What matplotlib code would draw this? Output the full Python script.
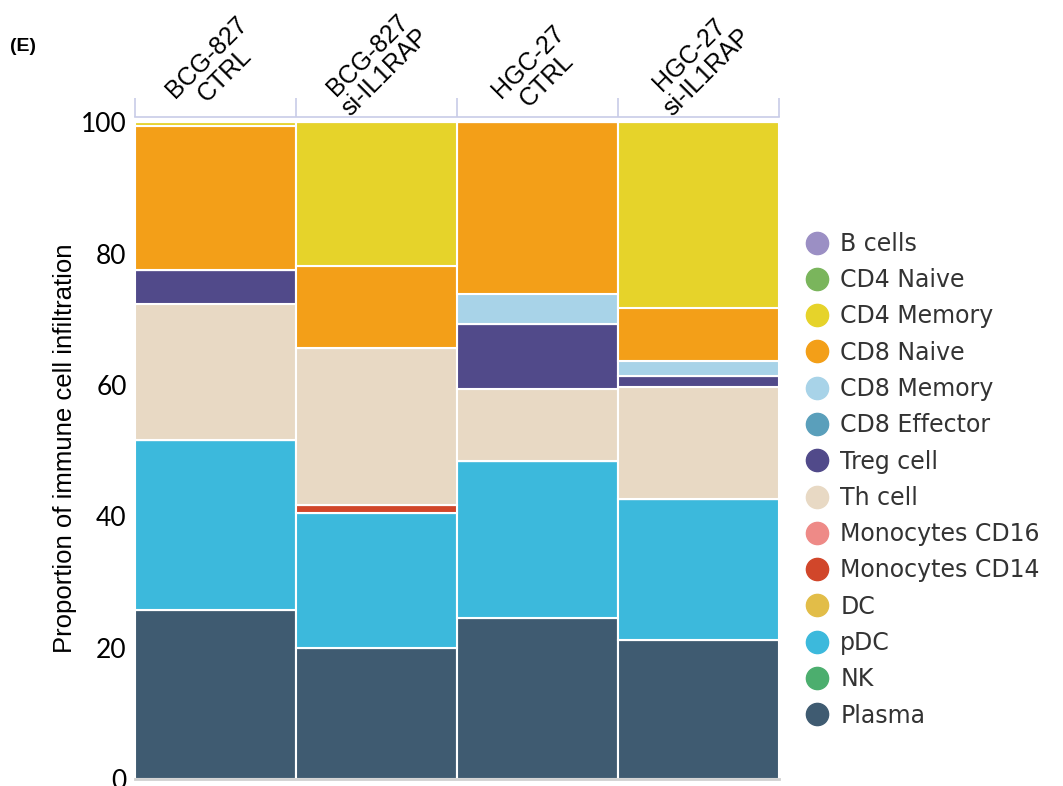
import numpy as np
import matplotlib
matplotlib.use("Agg")
import matplotlib.pyplot as plt
from matplotlib.lines import Line2D

samples = ["BCG-827\nCTRL", "BCG-827\nsi-IL1RAP", "HGC-27\nCTRL", "HGC-27\nsi-IL1RAP"]

# legend order (top to bottom)
cell_types = ["B cells", "CD4 Naive", "CD4 Memory", "CD8 Naive", "CD8 Memory",
              "CD8 Effector", "Treg cell", "Th cell", "Monocytes CD16",
              "Monocytes CD14", "DC", "pDC", "NK", "Plasma"]
colors = ["#9B8FC4", "#7AB55C", "#E6D32A", "#F39F18", "#A8D3E8",
          "#5A9FBB", "#514A8A", "#E8D9C4", "#EE8A87",
          "#D1462A", "#E2BD48", "#3CB9DC", "#4CAE6E", "#3F5B71"]

b_cells = [0, 0, 0, 0]
cd4_naive = [0, 0, 0, 0]
cd4_memory = [0.6, 21.9, 0, 28.3]
cd8_naive = [21.9, 12.5, 26.2, 8.1]
cd8_memory = [0, 0, 4.5, 2.3]
cd8_effector = [0, 0, 0, 0]
treg = [5.2, 0, 9.9, 1.6]
th_cell = [20.7, 23.9, 11.0, 17.1]
mono_cd16 = [0, 0, 0, 0]
mono_cd14 = [0, 1.2, 0, 0]
dc = [0, 0, 0, 0]
pdc = [25.9, 20.6, 23.9, 21.4]
nk = [0, 0, 0, 0]
plasma = [25.7, 19.9, 24.5, 21.2]

series = [b_cells, cd4_naive, cd4_memory, cd8_naive, cd8_memory, cd8_effector,
          treg, th_cell, mono_cd16, mono_cd14, dc, pdc, nk, plasma]

fig = plt.figure(figsize=(10.63, 7.86), dpi=100)
ax = fig.add_axes([0.127, 0.009, 0.606, 0.842])

x = np.arange(len(samples))
bottom = np.zeros(len(samples))
# stack from Plasma (bottom) up to B cells (top)
for name, vals, col in zip(cell_types[::-1], series[::-1], colors[::-1]):
    vals = np.array(vals, dtype=float)
    ax.bar(x, vals, bottom=bottom, width=1.0, color=col, edgecolor="white",
           linewidth=1.5, label=name)
    bottom += vals

ax.set_xlim(-0.5, 3.5)
ax.set_ylim(0, 100.8)
ax.set_yticks([0, 20, 40, 60, 80, 100])
ax.tick_params(axis="y", length=0, labelsize=19, pad=6)
for s in ["left", "right"]:
    ax.spines[s].set_visible(False)
ax.spines["bottom"].set_color("#D0D0D0")
ax.spines["bottom"].set_linewidth(2)
ax.spines["top"].set_color("#C8CCE8")
ax.spines["top"].set_linewidth(1.2)

ax.xaxis.tick_top()
ax.set_xticks(x)
ax.set_xticklabels(samples, rotation=45, ha="center", va="bottom",
                   rotation_mode="default", fontsize=18, linespacing=1.05,
                   multialignment="center", family="Liberation Sans")
ax.tick_params(axis="x", which="major", length=0, pad=-2.5)
ax.set_xticks([-0.5, 0.5, 1.5, 2.5, 3.5], minor=True)
ax.tick_params(axis="x", which="minor", top=True, bottom=False, length=14,
               direction="out", color="#C8CCE8", width=1.2)

for lbl in ax.get_yticklabels():
    lbl.set_family("Lato")

ax.set_ylabel("Proportion of immune cell infiltration", fontsize=18.5,
              family="Liberation Sans", labelpad=3)

handles = [Line2D([0], [0], marker="o", linestyle="", markersize=16,
                  markerfacecolor=c, markeredgecolor=c) for c in colors]
leg = fig.legend(handles, cell_types, loc="upper left",
                 bbox_to_anchor=(0.735, 0.732), frameon=False,
                 fontsize=17, labelspacing=0.52, handletextpad=0.4,
                 handlelength=1.2)
for t in leg.get_texts():
    t.set_color("#333333")

fig.text(0.009, 0.935, "(E)", fontsize=14, fontweight="bold",
         family="Liberation Sans")

fig.savefig("out.png", dpi=100)
